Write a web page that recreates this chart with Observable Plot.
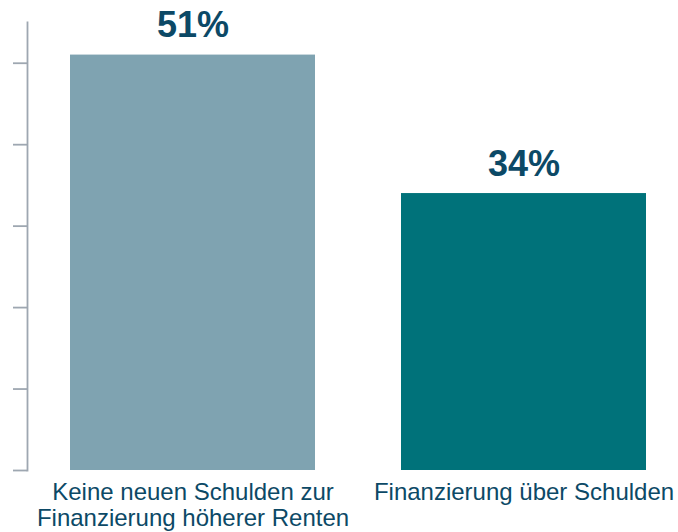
<!DOCTYPE html>
<html>
<head>
<meta charset="utf-8">
<script src="https://cdn.jsdelivr.net/npm/d3@7"></script>
<script src="https://cdn.jsdelivr.net/npm/@observablehq/plot@0.6"></script>
<style>
  html, body { margin: 0; padding: 0; background: #fff; }
</style>
</head>
<body>
<div id="chart"></div>
<script>
const categories = ["Keine neuen Schulden zur\nFinanzierung höherer Renten", "Finanzierung über Schulden"];
const values = [51, 34];
const valueLabels = ["51%", "34%"];
const barColors = ["#7fa3b1", "#00727a"];
const yTicks = [0, 10, 20, 30, 40, 50];

const textColor = "#0c4966";
const axisColor = "#9ea7b1";

const data = categories.map((c, i) => ({ category: c, value: values[i], label: valueLabels[i] }));

const chart = Plot.plot({
  width: 678,
  height: 532,
  marginTop: 22,
  marginBottom: 62,
  marginLeft: 27,
  marginRight: 0,
  style: { fontFamily: "'Liberation Sans', Arial, sans-serif", background: "#fff" },
  x: { domain: categories, paddingInner: 0.259, paddingOuter: 0.11, align: 0.575, axis: null, label: null },
  y: { domain: [0, 55], axis: null, label: null },
  color: { domain: categories, range: barColors },
  marks: [
    Plot.barY(data, { x: "category", y: "value", fill: "category" }),
    Plot.text(data, { x: "category", y: "value", text: "label", dy: -18, lineAnchor: "bottom", fontSize: 36, fontWeight: "bold", fill: textColor }),
    Plot.axisY({ ticks: yTicks, tickFormat: () => "", tickSize: 14, stroke: axisColor, strokeWidth: 1.8, label: null }),
    Plot.frame({ anchor: "left", stroke: axisColor, strokeWidth: 1.8 }),
    Plot.axisX({ tickSize: 0, tickPadding: 10, fontSize: 24, fill: textColor, lineHeight: 1.12, label: null })
  ]
});
document.getElementById("chart").appendChild(chart);
</script>
</body>
</html>
